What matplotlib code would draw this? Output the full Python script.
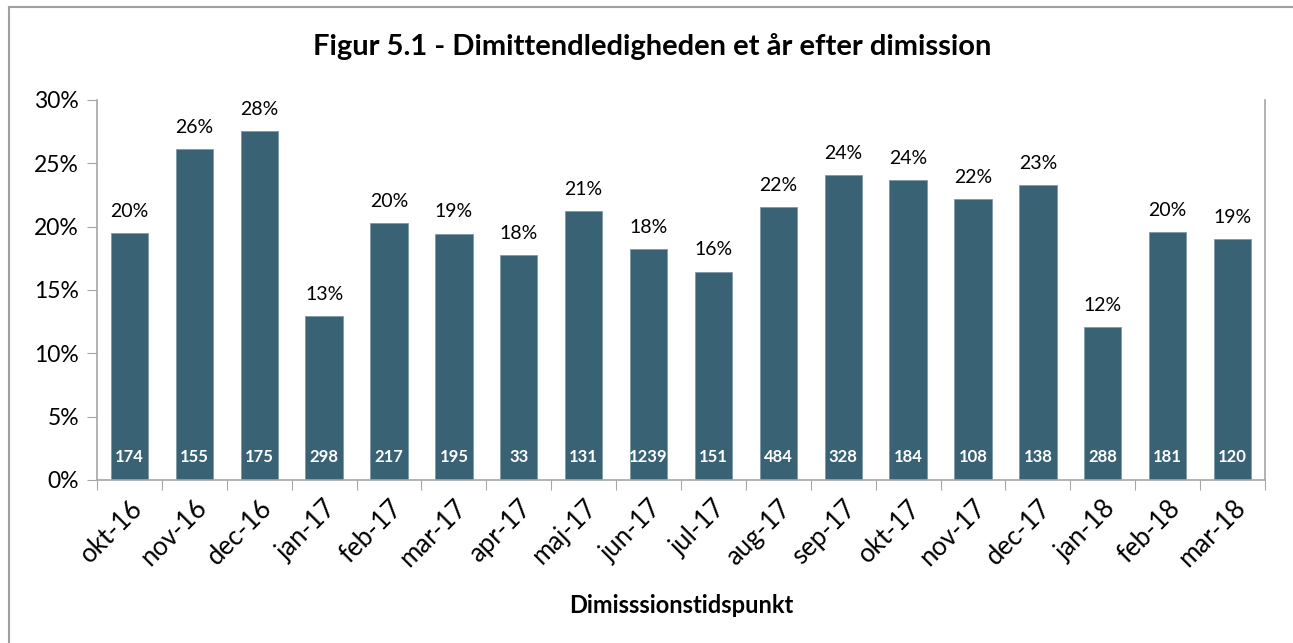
import matplotlib
matplotlib.use("Agg")
import matplotlib.pyplot as plt
from matplotlib.lines import Line2D
import numpy as np

plt.rcParams['font.family'] = ['Lato', 'DejaVu Sans']

categories = ["okt-16", "nov-16", "dec-16", "jan-17", "feb-17", "mar-17", "apr-17", "maj-17",
              "jun-17", "jul-17", "aug-17", "sep-17", "okt-17", "nov-17", "dec-17", "jan-18",
              "feb-18", "mar-18"]
rates = [19.5, 26.1, 27.55, 12.95, 20.3, 19.45, 17.75, 21.2, 18.25, 16.45, 21.55, 24.1,
         23.7, 22.15, 23.3, 12.05, 19.6, 19.0]
rate_labels = ["20%", "26%", "28%", "13%", "20%", "19%", "18%", "21%", "18%", "16%", "22%",
               "24%", "24%", "22%", "23%", "12%", "20%", "19%"]
counts = [174, 155, 175, 298, 217, 195, 33, 131, 1239, 151, 484, 328, 184, 108, 138, 288, 181, 120]

bar_color = "#3A6275"
axis_color = "#A6A6A6"

fig = plt.figure(figsize=(12.93, 6.43), dpi=100)
ax = fig.add_axes([97/1293, 1-480/643, (1265-97)/1293, 380/643])

x = np.arange(len(categories))
bars = ax.bar(x, rates, width=0.575, color=bar_color, edgecolor="#7F99A6", linewidth=0.6, zorder=2)

for xi, r, lab, c in zip(x, rates, rate_labels, counts):
    ax.annotate(lab, (xi, r), xytext=(0, 9.5), textcoords="offset points",
                ha="center", va="bottom", fontsize=14, color="black")
    ax.text(xi, 1.85, str(c), ha="center", va="center", fontsize=12,
            color="white", fontweight="bold")

ax.set_xlim(-0.5, len(categories) - 0.5)
ax.set_ylim(0, 30)
ax.set_yticks(np.arange(0, 31, 5))
ax.set_yticklabels([f"{v}%" for v in range(0, 31, 5)], fontsize=16.5)
ax.set_xticks(np.arange(-0.5, len(categories), 1.0))
ax.set_xticklabels([])
ax.set_xticks(x, minor=True)
ax.set_xticklabels(categories, minor=True, rotation=45, ha="right", va="top",
                   rotation_mode="anchor", fontsize=18.5)
ax.tick_params(axis="x", which="minor", length=0, pad=11)
ax.tick_params(axis="x", which="major", length=7, color=axis_color, direction="out")
ax.tick_params(axis="y", length=7, color=axis_color, direction="out", pad=6)

for s in ["left", "bottom", "right"]:
    ax.spines[s].set_color(axis_color)
    ax.spines[s].set_linewidth(1.2)
ax.spines["top"].set_visible(False)

ax.set_xlabel("Dimisssionstidspunkt", fontsize=17, fontweight="bold", labelpad=16)

fig.text(652/1293, 1-47/643, "Figur 5.1 - Dimittendledigheden et år efter dimission",
         ha="center", va="center", fontsize=21, fontweight="bold")

fig.add_artist(Line2D([8.5/1293, 8.5/1293], [0, 1-6.5/643], transform=fig.transFigure,
                      color="#A0A0A0", linewidth=1.5))
fig.add_artist(Line2D([8.5/1293, 1], [1-6.5/643, 1-6.5/643], transform=fig.transFigure,
                      color="#A0A0A0", linewidth=1.5))

fig.savefig("out.png", dpi=100)
